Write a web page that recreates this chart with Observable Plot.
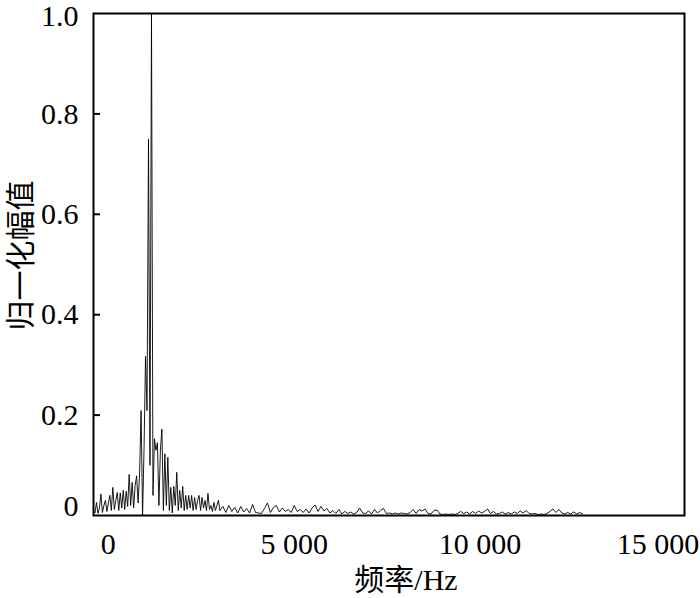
<!DOCTYPE html>
<html><head><meta charset="utf-8">
<script src="https://cdn.jsdelivr.net/npm/d3@7"></script>
<script src="https://cdn.jsdelivr.net/npm/@observablehq/plot@0.6"></script>
<style>body{margin:0;background:#fff}</style>
</head><body><div id="chart"></div>
<script>
// Spectrum sampled on a regular grid: low band (dense), high band (coarser)
const lowStart = -400, lowStep = 40;
const lowAmp = [
  0.01, 0.005, 0.026, 0.004, 0.015, 0.043, 0.006, 0.02, 0.03, 0.008,
  0.025, 0.04, 0.01, 0.056, 0.012, 0.03, 0.046, 0.01, 0.045, 0.015,
  0.05, 0.012, 0.048, 0.018, 0.082, 0.02, 0.066, 0.015, 0.06, 0.079,
  0.025, 0.083, 0.209, 0.0, 0.135, 0.317, 0.209, 0.75, 0.1, 1.0,
  0.04, 0.153, 0.13, 0.145, 0.02, 0.13, 0.172, 0.01, 0.123, 0.02,
  0.116, 0.01, 0.056, 0.005, 0.058, 0.02, 0.086, 0.01, 0.05, 0.015,
  0.058, 0.01, 0.04, 0.012, 0.04, 0.015, 0.04, 0.01, 0.036, 0.012,
  0.03, 0.04, 0.01, 0.036, 0.015, 0.03, 0.01, 0.044, 0.012, 0.02,
  0.008, 0.026, 0.01, 0.02, 0.03, 0.01
];
const highStart = 3080, highStep = 80;
const highAmp = [
  0.018, 0.006, 0.02, 0.008, 0.016, 0.005, 0.018, 0.007, 0.014, 0.005,
  0.022, 0.006, 0.005, 0.004, 0.014, 0.025, 0.006, 0.016, 0.02, 0.007,
  0.015, 0.008, 0.012, 0.006, 0.02, 0.008, 0.012, 0.006, 0.013, 0.005,
  0.015, 0.021, 0.008, 0.018, 0.009, 0.014, 0.005, 0.01, 0.004, 0.012,
  0.003, 0.008, 0.004, 0.007, 0.003, 0.006, 0.015, 0.005, 0.004, 0.009,
  0.003, 0.012, 0.005, 0.01, 0.014, 0.004, 0.005, 0.003, 0.005, 0.003,
  0.005, 0.004, 0.003, 0.006, 0.012, 0.004, 0.012, 0.009, 0.013, 0.004,
  0.003, 0.01, 0.011, 0.003, 0.002, 0.003, 0.002, 0.003, 0.002, 0.004,
  0.008, 0.004, 0.007, 0.003, 0.008, 0.004, 0.009, 0.005, 0.008, 0.013,
  0.004, 0.008, 0.003, 0.004, 0.007, 0.003, 0.006, 0.003, 0.007, 0.004,
  0.009, 0.005, 0.01, 0.004, 0.003, 0.004, 0.002, 0.003, 0.002, 0.004,
  0.008, 0.013, 0.006, 0.012, 0.005, 0.003, 0.006, 0.003, 0.007, 0.003,
  0.006, 0.003
];
const xTicks = [0, 5000, 10000, 15000];
const xTickLabels = ["0", "5 000", "10 000", "15 000"];
const yTicks = [0.2, 0.4, 0.6, 0.8, 1.0];
const yTickLabels = ["0.2", "0.4", "0.6", "0.8", "1.0"];
const yZeroLabel = "0";
const xLabel = "频率/Hz";
const yLabel = "归一化幅值";

const spectrum = [
  ...lowAmp.map((a, i) => ({f: lowStart + i * lowStep, a})),
  ...highAmp.map((a, j) => ({f: highStart + j * highStep, a}))
];

const xFmt = d => xTickLabels[xTicks.indexOf(d)];
const yFmt = d => yTickLabels[yTicks.indexOf(d)];
const axisText = {tickSize: 0, fontSize: 30, label: null};

const W = 700, H = 598, mL = 93, mR = 16, mT = 13, mB = 83, tickLen = 7;
const xDomain = [-400, 15500];
const hzPerPx = (xDomain[1] - xDomain[0]) / (W - mL - mR);

const chart = Plot.plot({
  width: W,
  height: H,
  marginLeft: mL,
  marginRight: mR,
  marginTop: mT,
  marginBottom: mB,
  style: {fontFamily: '"Liberation Serif", "Times New Roman", "Noto Sans CJK SC", serif', background: "#fff", color: "#000"},
  x: {domain: xDomain, axis: null},
  y: {domain: [0, 1], axis: null},
  marks: [
    Plot.line(spectrum, {x: "f", y: "a", stroke: "#000", strokeWidth: 0.9}),
    // inward tick marks on the left frame
    Plot.ruleY(yTicks.slice(0, 4), {y: d => d, x1: () => xDomain[0], x2: () => xDomain[0] + tickLen * hzPerPx, stroke: "#000", strokeWidth: 2}),
    Plot.axisY(yTicks.slice(0, 4), {...axisText, tickPadding: 15, tickFormat: yFmt}),
    Plot.axisY(yTicks.slice(4), {...axisText, tickPadding: 15, dy: 3, tickFormat: yFmt}),
    Plot.axisY([0], {...axisText, tickPadding: 15, dy: -9, tickFormat: () => yZeroLabel}),
    Plot.axisX(xTicks.slice(0, 3), {...axisText, tickPadding: 17, tickFormat: xFmt}),
    Plot.axisX(xTicks.slice(3), {...axisText, tickPadding: 17, dx: -8, tickFormat: xFmt}),
    Plot.text([xLabel], {text: d => d, frameAnchor: "bottom", textAnchor: "middle", lineAnchor: "middle", dx: 17, dy: 65, fontSize: 30}),
    Plot.text([yLabel], {text: d => d, frameAnchor: "left", textAnchor: "middle", lineAnchor: "middle", dx: -72, dy: -9, rotate: -90, fontSize: 30}),
    Plot.frame({stroke: "#000", strokeWidth: 2})
  ]
});
document.getElementById("chart").appendChild(chart);
</script>
</body></html>
